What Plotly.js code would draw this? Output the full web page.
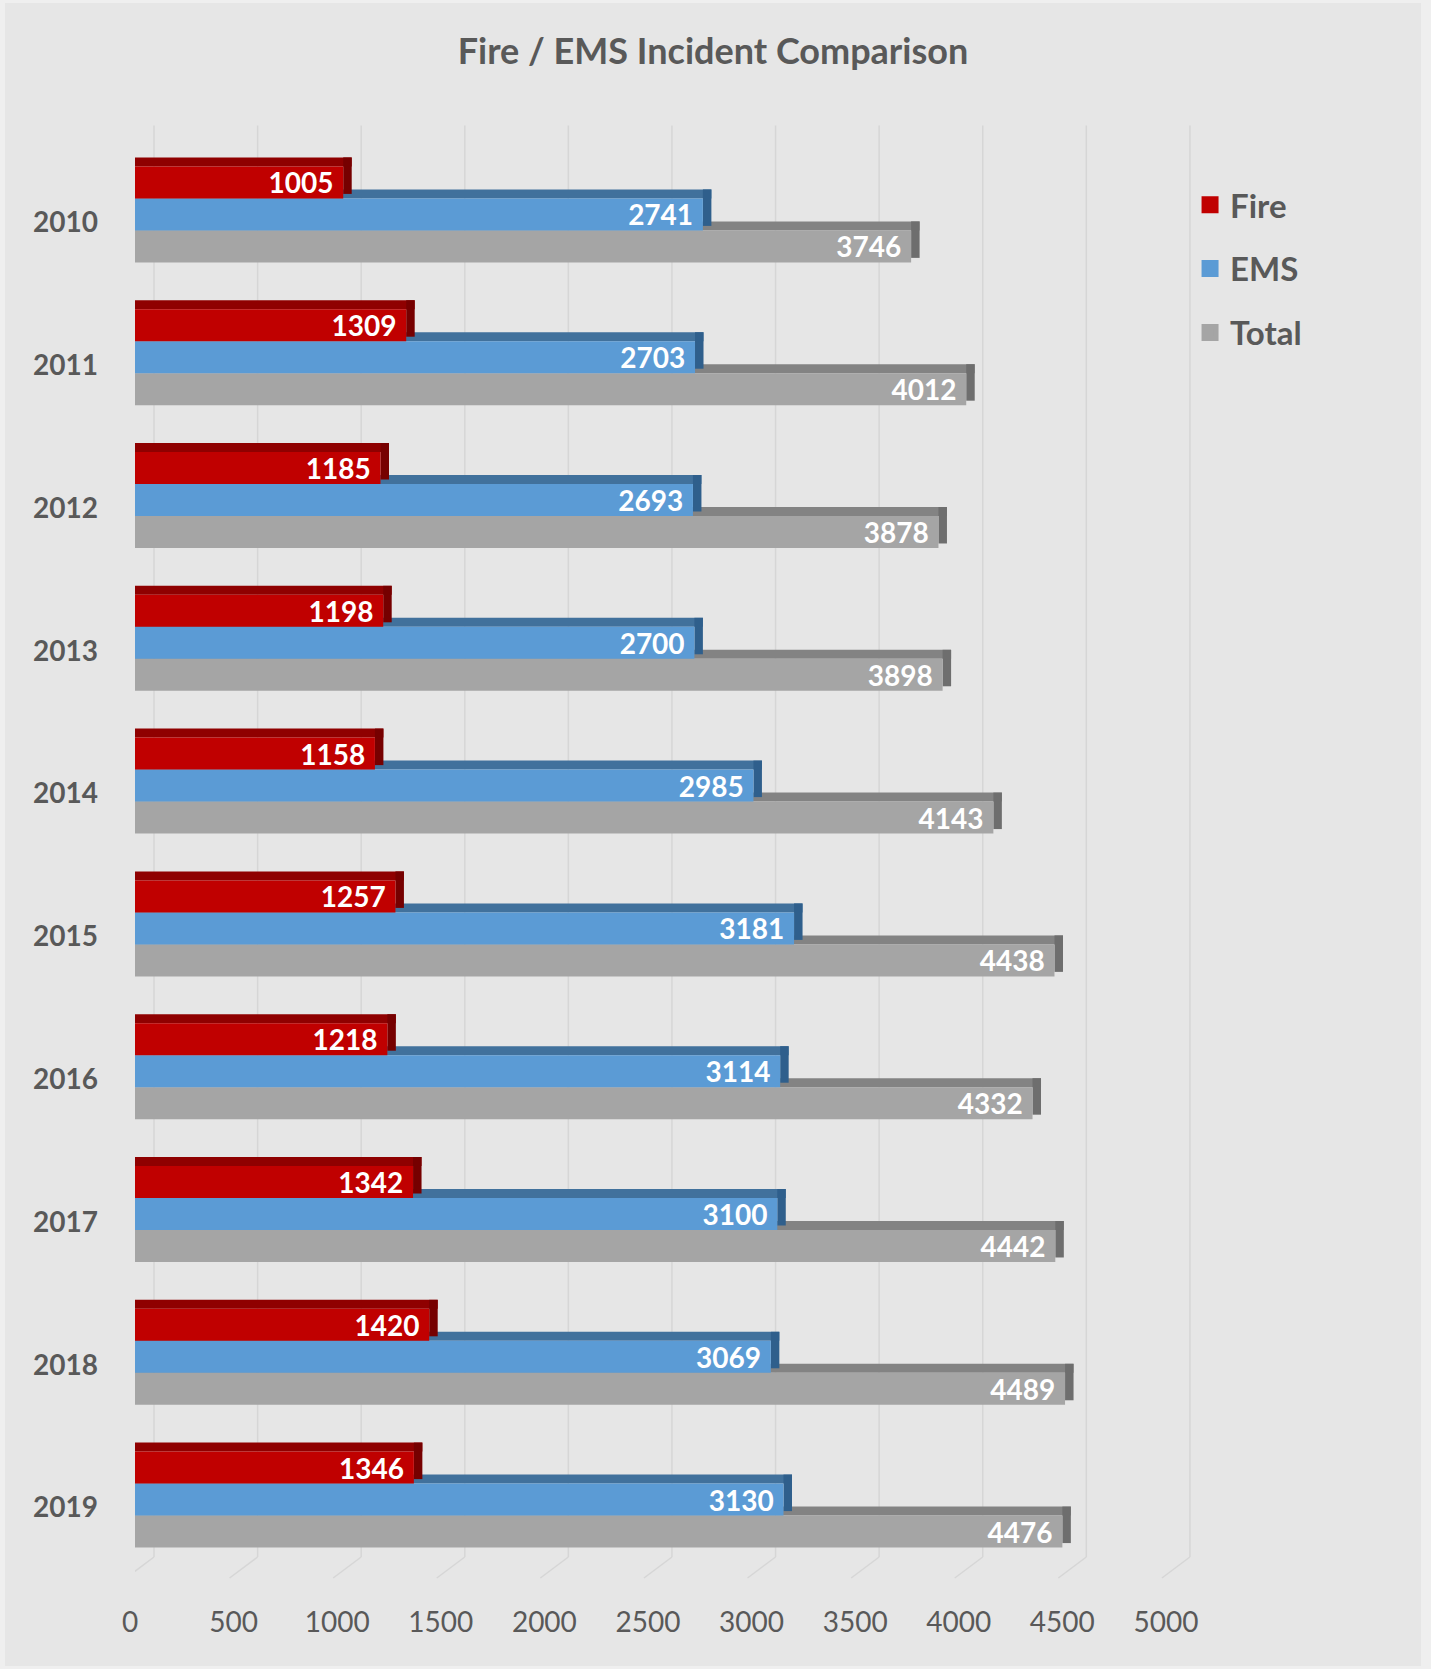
<!DOCTYPE html>
<html><head><meta charset="utf-8">
<script src="https://cdn.plot.ly/plotly-3.0.1.min.js"></script>
<style>
html,body{margin:0;padding:0;background:#efefef;}
#chart{position:absolute;left:5px;top:3px;width:1416px;height:1663px;}
</style>
</head><body><div id="chart"></div>
<script>
const years = ['2010','2011','2012','2013','2014','2015','2016','2017','2018','2019'];
const fire  = [1005,1309,1185,1198,1158,1257,1218,1342,1420,1346];
const ems   = [2741,2703,2693,2700,2985,3181,3114,3100,3069,3130];
const total = [3746,4012,3878,3898,4143,4438,4332,4442,4489,4476];
const xTicks = [0,500,1000,1500,2000,2500,3000,3500,4000,4500,5000];

const FONT = 'Lato, "Open Sans", sans-serif';
const GREY = '#595959';
const FRONT_W = 0.224;   // bar thickness (category units)
const TOP_H = 0.063;     // 3D top face thickness
const DEPTH = 41;        // 3D side depth in value units

const series = [
  {name:'Total', values: total, front:'#a5a5a5', top:'#838383', side:'#6e6e6e', offset: 0.112, rank:3},
  {name:'EMS',   values: ems,   front:'#5b9bd5', top:'#41719c', side:'#2f5f8c', offset:-0.112, rank:2},
  {name:'Fire',  values: fire,  front:'#c00000', top:'#8f0000', side:'#760000', offset:-0.336, rank:1}
];

const traces = [];
series.forEach(s => {
  // top face
  traces.push({
    type:'bar', orientation:'h', y: years, x: s.values.map(v => v + DEPTH), base: 0,
    offset: s.offset - TOP_H, width: TOP_H,
    marker:{color:s.top}, showlegend:false, hoverinfo:'skip'
  });
  // side face
  traces.push({
    type:'bar', orientation:'h', y: years, x: s.values.map(() => DEPTH), base: s.values,
    offset: s.offset - TOP_H, width: FRONT_W + TOP_H*0.5,
    marker:{color:s.side}, showlegend:false, hoverinfo:'skip'
  });
  // front face with label
  traces.push({
    type:'bar', orientation:'h', y: years, x: s.values, name: s.name,
    offset: s.offset, width: FRONT_W,
    marker:{color:s.front}, showlegend:false,
    text: s.values.map(String), texttemplate:'%{text}\u00a0',
    textposition:'inside', insidetextanchor:'end', textangle:0, constraintext:'none',
    textfont:{family:FONT, size:28, color:'#ffffff', weight:'bold'},
    cliponaxis:false
  });
});
// legend entries
series.forEach(s => {
  traces.push({
    type:'bar', orientation:'h', x:[null], y:[null], name:s.name,
    marker:{color:s.front, line:{color:s.front, width:10}},
    legendrank:s.rank, legendgroup:s.name, showlegend:true, hoverinfo:'skip'
  });
});

const shapes = [];
xTicks.forEach(t => {
  shapes.push({type:'line', layer:'below', xref:'x', xsizemode:'pixel', xanchor:t, x0:19, x1:19,
    yref:'paper', y0:0.0098, y1:1.0122, line:{color:'#d6d6d6', width:1.5}});
  shapes.push({type:'line', layer:'below', xref:'x', xsizemode:'pixel', xanchor:t, x0:19, x1:-9,
    yref:'paper', y0:0.0098, y1:-0.0049, line:{color:'#d6d6d6', width:1.5}});
});

const layout = {
  width:1416, height:1663,
  paper_bgcolor:'#e6e6e6', plot_bgcolor:'rgba(0,0,0,0)',
  margin:{l:130, r:219, t:140, b:95, autoexpand:false},
  barmode:'overlay',
  title:{text:'Fire / EMS Incident Comparison', x:0.5, xref:'container', y:0.9711, yref:'container',
    yanchor:'middle', font:{family:FONT, size:36, color:GREY, weight:'bold'}},
  xaxis:{range:[0,5150], tickvals:xTicks, showgrid:false, zeroline:false, showline:false, ticks:'',
    ticklabelstandoff:32, ticklabelshift:-5, tickfont:{family:FONT, size:28, color:GREY}, fixedrange:true},
  yaxis:{type:'category', categoryarray:years, range:[9.5,-0.5], showgrid:false, zeroline:false,
    showline:false, ticks:'', ticklabelstandoff:36, ticklabelshift:-8,
    tickfont:{family:FONT, size:28, color:GREY, weight:'bold'}, fixedrange:true},
  legend:{x:0.9888, xanchor:'left', y:0.9764, yanchor:'top', bgcolor:'rgba(0,0,0,0)',
    traceorder:'grouped', tracegroupgap:18,
    font:{family:FONT, size:33, color:GREY, weight:'bold'}},
  shapes:shapes,
  hovermode:false
};

Plotly.newPlot('chart', traces, layout, {displayModeBar:false, staticPlot:true});
</script>
</body></html>
